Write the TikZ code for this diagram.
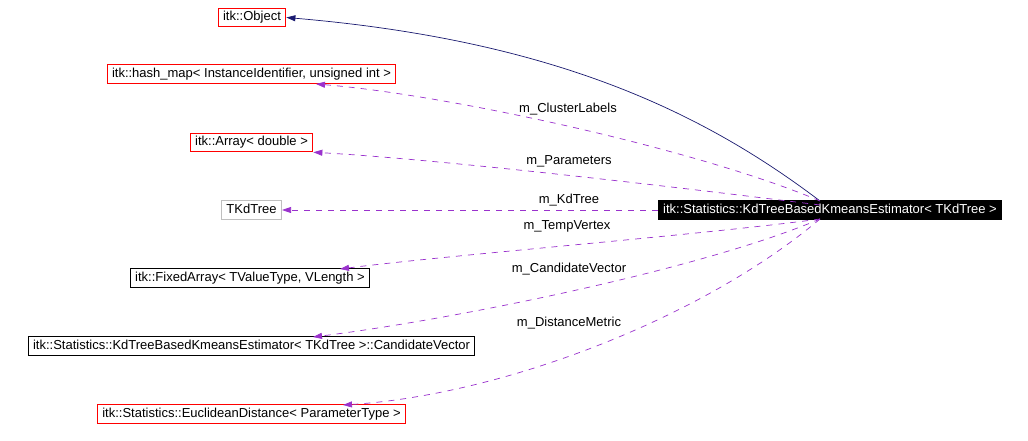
\documentclass[tikz,border=0pt]{standalone}
\usepackage{fontspec}
\setmainfont{Liberation Sans}
\usetikzlibrary{arrows.meta}
\definecolor{dnavy}{HTML}{191970}
\definecolor{dpurple}{HTML}{9A32CD}
\definecolor{dgray}{HTML}{BFBFBF}
\definecolor{dred}{HTML}{FF0000}
\tikzset{
  box/.style={draw=black, line width=1pt, fill=white, inner xsep=5pt, inner ysep=0pt, minimum height=18.5pt, font=\fontsize{13}{15}\selectfont, text height=9pt, text depth=2.5pt},
  redbox/.style={box, draw=dred},
  graybox/.style={box, draw=dgray},
  mainbox/.style={box, fill=black, text=white},
  dep/.style={draw=dpurple, line width=0.7pt, dash pattern=on 6pt off 6pt, -{Triangle[length=9pt,width=6pt]}},
  inh/.style={draw=dnavy, line width=0.7pt, -{Triangle[length=9pt,width=6pt]}},
  lbl/.style={font=\fontsize{13}{15}\selectfont, inner sep=0pt}
}
\begin{document}
\begin{tikzpicture}[x=1pt,y=-1pt]
\useasboundingbox[fill=white] (0,0) rectangle (1028,441);
\coordinate (sa) at (820,201);
\coordinate (sb) at (820,205);
\coordinate (sc) at (820,219);
\coordinate (ehash) at (316,84);
\coordinate (efix) at (340,269);
\coordinate (ecand) at (313,337);
\coordinate (edist) at (343,405);

\node[redbox] (obj) at (252,17.5) {itk::Object};
\node[redbox] (hash) at (251.5,74) {itk::hash\_map< InstanceIdentifier, unsigned int >};
\node[redbox] (arr) at (251.5,142.5) {itk::Array< double >};
\node[graybox] (tkd) at (251.5,210) {TKdTree};
\node[box] (fix) at (250,278) {itk::FixedArray< TValueType, VLength >};
\node[box] (cand) at (251.5,346) {itk::Statistics::KdTreeBasedKmeansEstimator< TKdTree >::CandidateVector};
\node[redbox] (dist) at (251.5,414) {itk::Statistics::EuclideanDistance< ParameterType >};
\node[mainbox] (main) at (830,210) {itk::Statistics::KdTreeBasedKmeansEstimator< TKdTree >};

\draw[inh] (sa) .. controls (700,110) and (550,40) .. (obj.east);
\draw[dep] (sa) .. controls (700,150) and (450,95) .. (ehash);
\draw[dep] (sb) .. controls (700,190) and (450,160) .. (arr.south east);
\draw[dep] (main.west) -- (tkd.east);
\draw[dep] (sc) .. controls (700,235) and (450,255) .. (efix);
\draw[dep] (sc) .. controls (700,270) and (450,320) .. (ecand);
\draw[dep] (sc) .. controls (700,320) and (500,395) .. (edist);

\node[lbl] (l1) at (568,109) {m\_ClusterLabels};
\node[lbl] (l2) at (569,161) {m\_Parameters};
\node[lbl] (l3) at (569,200) {m\_KdTree};
\node[lbl] (l4) at (567,226) {m\_TempVertex};
\node[lbl] (l5) at (569,269) {m\_CandidateVector};
\node[lbl] (l6) at (569,323) {m\_DistanceMetric};
\end{tikzpicture}
\end{document}
